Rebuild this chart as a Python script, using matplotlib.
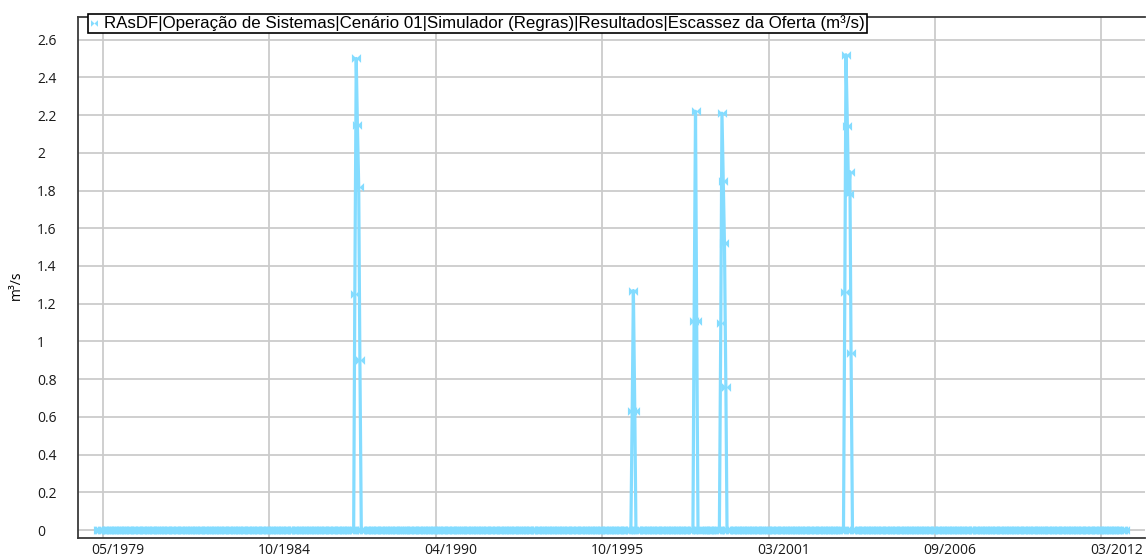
import matplotlib
matplotlib.use('Agg')
import matplotlib.pyplot as plt
import matplotlib.dates as mdates
from matplotlib.path import Path
from matplotlib.lines import Line2D
from matplotlib.ticker import FuncFormatter
from matplotlib.transforms import ScaledTranslation
import pandas as pd

# serie quinzenal, zero fora dos eventos de escassez
inicio = '1979-03-01'
fim = '2012-12-15'

datas_eventos = ['1987-08-15', '1987-09-01', '1987-09-15', '1987-10-01', '1987-10-15',
                 '1996-10-01', '1996-10-15', '1996-11-01',
                 '1998-10-15', '1998-11-01', '1998-11-15',
                 '1999-09-01', '1999-09-15', '1999-10-01', '1999-10-15', '1999-11-01',
                 '2003-10-01', '2003-10-15', '2003-11-01', '2003-11-15', '2003-12-01', '2003-12-15']
valores_eventos = [1.25, 2.50, 2.15, 1.82, 0.90,
                   0.63, 1.27, 0.63,
                   1.11, 2.22, 1.11,
                   1.10, 2.21, 1.85, 1.52, 0.76,
                   1.26, 2.52, 2.14, 1.78, 1.90, 0.94]

ticks_x = ['1979-05-01', '1984-10-22', '1990-04-14', '1995-10-06',
           '2001-03-29', '2006-09-20', '2012-03-12']
ticks_y = [0, 0.2, 0.4, 0.6, 0.8, 1, 1.2, 1.4, 1.6, 1.8, 2, 2.2, 2.4, 2.6]

titulo = 'RAsDF|Operação de Sistemas|Cenário 01|Simulador (Regras)|Resultados|Escassez da Oferta (m³/s)'
unidade = 'm³/s'
cor = '#84dcff'

datas = pd.date_range(inicio, fim, freq='SMS')
serie = pd.Series(0.0, index=datas)
serie.loc[pd.to_datetime(datas_eventos)] = valores_eventos

# marcador "gravata borboleta"
bowtie = Path([(-1, -0.95), (-1, 0.95), (0, 0), (1, 0.95), (1, -0.95), (0, 0), (-1, -0.95)])

fig = plt.figure(figsize=(11.46, 5.6), dpi=100)
ax = fig.add_axes([78 / 1146, 22 / 560, 1067 / 1146, 521 / 560])

ax.plot(serie.index, serie.values, color=cor, lw=2.3, marker=bowtie, ms=6.6,
        mew=0, mfc=cor, zorder=3)

base = mdates.date2num(pd.Timestamp('1979-05-01'))
ax.set_xlim(base - 300, base + 12528)
ax.set_ylim(-0.042, 2.72)

ax.set_xticks(pd.to_datetime(ticks_x))
ax.xaxis.set_major_formatter(mdates.DateFormatter('%m/%Y'))
ax.set_yticks(ticks_y)
ax.yaxis.set_major_formatter(FuncFormatter(lambda v, p: '{:g}'.format(round(v, 1))))

ax.grid(True, color='#cbcbcb', lw=1.3)
ax.set_axisbelow(True)

ax.tick_params(axis='both', length=0, labelsize=10, colors='#1a1a1a')
ax.tick_params(axis='y', pad=29.5)
ax.tick_params(axis='x', pad=3.5)
for lab in ax.get_yticklabels():
    lab.set_horizontalalignment('left')
    lab.set_fontfamily('Open Sans')
desloc = ScaledTranslation(15 / 100, 0, fig.dpi_scale_trans)
for lab in ax.get_xticklabels():
    lab.set_transform(lab.get_transform() + desloc)
    lab.set_fontfamily('Open Sans')

ax.set_ylabel(unidade, fontsize=10, family='Open Sans')
ax.yaxis.set_label_coords(-0.051, 0.486)

for s in ['left', 'bottom', 'top']:
    ax.spines[s].set_color('#3a3a3a')
    ax.spines[s].set_linewidth(1.3)
ax.spines['right'].set_visible(False)

h = Line2D([], [], color=cor, marker=bowtie, ls='none', ms=5, mew=0)
leg = ax.legend([h], [titulo], loc='upper left', bbox_to_anchor=(0.0094, 1.006),
                borderaxespad=0, fancybox=False, framealpha=1, edgecolor='black',
                borderpad=0.1, handlelength=0.55, handletextpad=0.3,
                prop={'family': 'Liberation Sans', 'size': 12.2})
leg.get_frame().set_linewidth(1.2)

fig.savefig('out.png', dpi=100)
